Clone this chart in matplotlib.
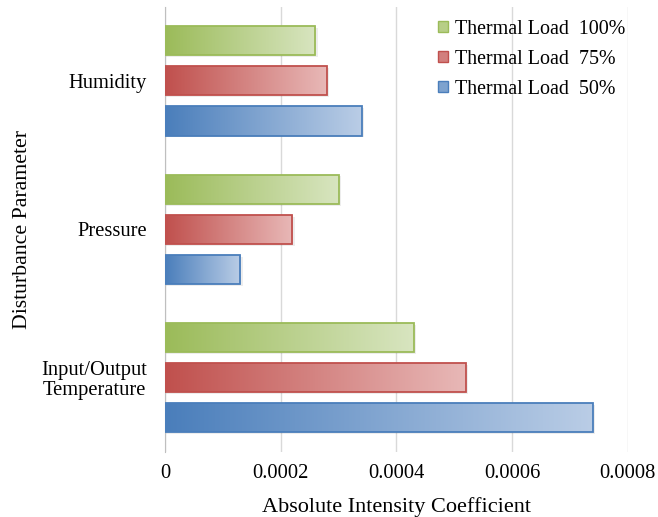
import numpy as np
import matplotlib.pyplot as plt
from matplotlib.colors import LinearSegmentedColormap
from matplotlib.patches import Patch

plt.rcParams['font.family'] = ['Liberation Serif', 'DejaVu Serif']

# data
categories = ['Input/Output\nTemperature', 'Pressure', 'Humidity']
load_50 = [0.00074, 0.00013, 0.00034]
load_75 = [0.00052, 0.00022, 0.00028]
load_100 = [0.00043, 0.00030, 0.00026]
series_names = ['Thermal Load  50%', 'Thermal Load  75%', 'Thermal Load  100%']
x_ticks = [0, 0.0002, 0.0004, 0.0006, 0.0008]
x_tick_labels = ['0', '0.0002', '0.0004', '0.0006', '0.0008']

# (dark end, light end, edge)
styles = [('#4A7EBB', '#BACDE6', '#4A7EBB'),
          ('#C0504D', '#E8B8B7', '#C0504D'),
          ('#9BBB59', '#D8E5C0', '#9BBB59')]

fig = plt.figure(figsize=(6.58, 5.17), dpi=100)
ax = fig.add_axes([0.251, 0.126, 0.703, 0.861])

y = np.arange(len(categories))
bar_h = 0.196
step = 0.27
grad = np.linspace(0, 1, 256).reshape(1, -1)

handles = []
for i, vals in enumerate([load_50, load_75, load_100]):
    dark, light, edge = styles[i]
    cmap = LinearSegmentedColormap.from_list('g%d' % i, [dark, light])
    pos = y + (i - 1) * step
    # soft shadow under the bars
    ax.barh(pos - 0.012, np.array(vals) + 0.000004, height=bar_h,
            color='#000000', alpha=0.07, linewidth=0, zorder=2)
    bars = ax.barh(pos, vals, height=bar_h, facecolor='none',
                   edgecolor=edge, linewidth=1.3, zorder=4)
    for bar in bars:
        x0, y0 = bar.get_xy()
        w, h = bar.get_width(), bar.get_height()
        im = ax.imshow(grad, cmap=cmap, extent=(x0, x0 + w, y0, y0 + h),
                       aspect='auto', origin='lower', zorder=3)
        im.set_clip_path(bar)
    handles.append(Patch(facecolor=cmap(0.45), edgecolor=edge,
                         linewidth=1.0, label=series_names[i]))

ax.set_xlim(0, 0.0008)
ax.set_ylim(-0.5, 2.5)
ax.set_xticks(x_ticks)
ax.set_xticklabels(x_tick_labels)
ax.set_yticks(y)
ax.set_yticklabels(categories, multialignment='center', linespacing=1.05)
ax.tick_params(axis='both', length=0, labelsize=14.8)
ax.tick_params(axis='y', pad=13)
ax.tick_params(axis='x', pad=9)

ax.grid(axis='x', color='#D9D9D9', linewidth=1.0, zorder=0)
ax.set_axisbelow(True)
for side in ['top', 'right', 'bottom']:
    ax.spines[side].set_visible(False)
ax.spines['left'].set_color('#BFBFBF')

ax.set_xlabel('Absolute Intensity Coefficient', fontsize=16, labelpad=10)
ax.set_ylabel('Disturbance Parameter', fontsize=15.7, labelpad=7)

leg = ax.legend(handles=handles[::-1], loc='upper right',
                bbox_to_anchor=(0.977, 0.997), bbox_transform=fig.transFigure,
                frameon=False, fontsize=14.4, handlelength=0.5, handleheight=0.5,
                handletextpad=0.35, labelspacing=0.55)

fig.savefig('out.png', dpi=100)
